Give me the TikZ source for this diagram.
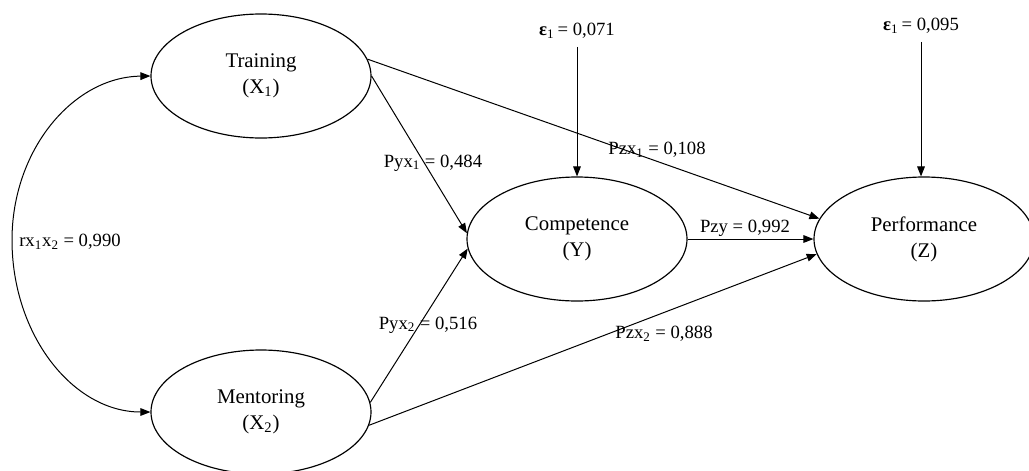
\documentclass[tikz,border=0pt]{standalone}
\usepackage{fontspec}
\setmainfont{Liberation Serif}
\usetikzlibrary{arrows.meta,shapes.geometric}
\begin{document}
\begin{tikzpicture}[x=0.6pt,y=-0.6pt,
  var/.style={ellipse,draw,line width=0.7pt,minimum width=132pt,minimum height=74.4pt,inner sep=0pt,align=center,font=\fontsize{12.5}{15.5}\selectfont},
  lbl/.style={inner sep=0pt,font=\fontsize{11.2}{13}\selectfont},
  arr/.style={-{Triangle[length=6pt,width=4.6pt]},line width=0.6pt},
  darr/.style={{Triangle[length=6pt,width=4.6pt]}-{Triangle[length=6pt,width=4.6pt]},line width=0.6pt}]
\useasboundingbox (0,0) rectangle (1029,470);

\node[var] (tr) at (261,76) {Training\\(X\textsubscript{1})};
\node[var] (me) at (261,412) {Mentoring\\(X\textsubscript{2})};
\node[var] (co) at (577,239) {Competence\\(Y)};
\node[var] (pe) at (924,239) {Performance\\(Z)};

\node[lbl] (e1) at (577,31) {\textbf{ε}\textsubscript{1}\,= 0,071};
\node[lbl] (e2) at (921,26) {\textbf{ε}\textsubscript{1}\,= 0,095};

\draw[arr] (e1.south) ++(0,8) coordinate (e1s) -- (co.north);
\draw[arr] (e2.south) ++(0,8) coordinate (e2s) -- (e2s |- pe.north);

\draw[arr] (tr.east) -- (co.177);
\draw[arr] (tr.9) -- (pe.169);
\draw[arr] (me.5) -- (co.185);
\draw[arr] (me.-7) -- (pe.188);
\draw[arr] (co.east) -- (pe.west);

\coordinate (cl) at (12,240);
\draw[darr] (tr.west) .. controls (73,77) and (12,150) .. (cl) .. controls (12,335) and (73,412) .. (me.west);

\node[lbl] (l1) at (433,163) {Pyx\textsubscript{1} = 0,484};
\node[lbl] (l2) at (428,325) {Pyx\textsubscript{2} = 0,516};
\node[lbl] (l3) at (657,150) {Pzx\textsubscript{1} = 0,108};
\node[lbl] (l4) at (745,228) {Pzy = 0,992};
\node[lbl] (l5) at (664,334) {Pzx\textsubscript{2} = 0,888};
\node[lbl] (l6) at (70,242) {rx\textsubscript{1}x\textsubscript{2} = 0,990};
\end{tikzpicture}
\end{document}
